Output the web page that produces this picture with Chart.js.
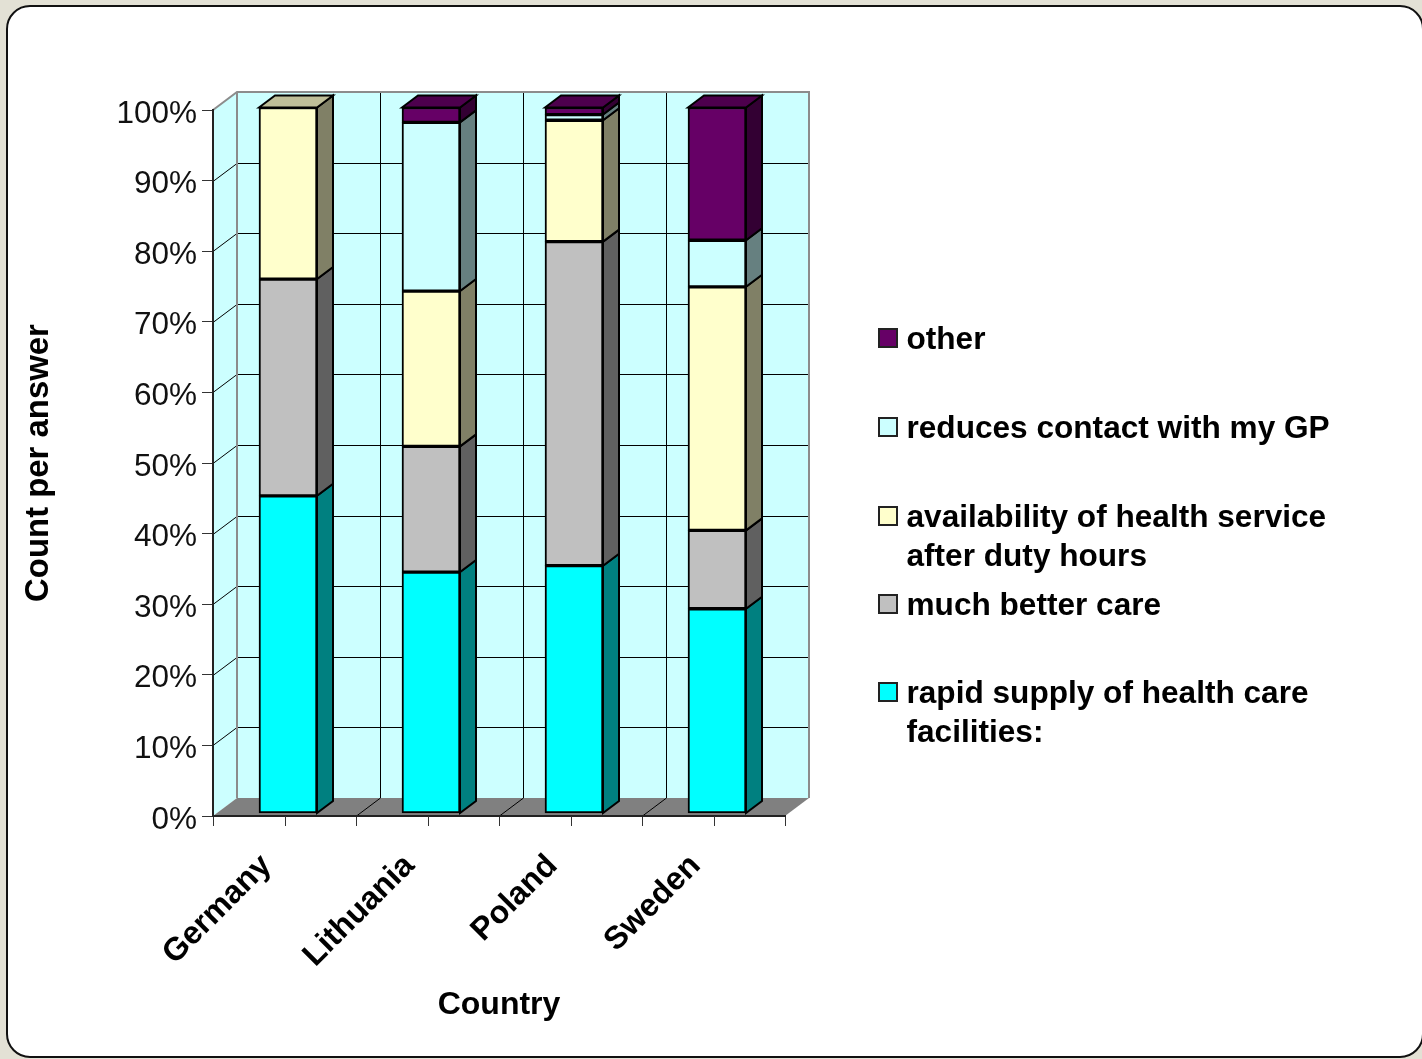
<!DOCTYPE html>
<html>
  <head>
    <title>Count per answer by country</title>
    <script src="https://cdn.jsdelivr.net/npm/chart.js@4/dist/chart.umd.js"></script>
    <style>
      html, body { margin: 0; height: 100%; overflow: hidden; background: #e3e1d5; }
      #frame {
        position: absolute; left: 6px; top: 5px; width: 1414px; height: 1049px;
        border: 2px solid #111; border-radius: 24px; background: #fff;
      }
      #canvas { position: absolute; left: 0; top: 0; }
    </style>
  </head>

  <body>
    <div id="frame"></div>
    <canvas id="canvas" width="1422" height="1059"></canvas>
    <script>
      const countries = ['Germany', 'Lithuania', 'Poland', 'Sweden'];
      const rapidSupply = [45.0, 34.2, 35.1, 29.0];
      const betterCare = [30.7, 17.8, 45.9, 11.1];
      const afterHours = [24.3, 22.0, 17.2, 34.5];
      const reducesContact = [null, 23.9, 0.8, 6.6];
      const other = [null, 2.1, 1.0, 18.8];

      const FONT = 'Arial, "Liberation Sans", sans-serif';
      const WALL_DEPTH = { x: 24, y: 18 };
      const BAR_DEPTH = { x: 16, y: 12 };
      const BAR_SHIFT = { x: 3.5, y: -2.5 };

      // darken a [r,g,b] colour for the side and top faces
      const shade = (rgb, k) => 'rgb(' + rgb.map((c) => Math.round(c * k)).join(',') + ')';
      const css = (rgb) => shade(rgb, 1);

      const series = [
        { label: 'rapid supply of health care\nfacilities:', rgb: [0, 255, 255], data: rapidSupply, legendY: 692 },
        { label: 'much better care', rgb: [192, 192, 192], data: betterCare, legendY: 604 },
        { label: 'availability of health service\nafter duty hours', rgb: [255, 255, 204], data: afterHours, legendY: 516 },
        { label: 'reduces contact with my GP', rgb: [204, 255, 255], data: reducesContact, legendY: 427 },
        { label: 'other', rgb: [102, 0, 102], data: other, legendY: 338 },
      ];

      function line(ctx, x1, y1, x2, y2) {
        ctx.beginPath();
        ctx.moveTo(x1, y1);
        ctx.lineTo(x2, y2);
        ctx.stroke();
      }

      function poly(ctx, pts, fill, stroke, width) {
        ctx.beginPath();
        pts.forEach((p, i) => (i ? ctx.lineTo(p[0], p[1]) : ctx.moveTo(p[0], p[1])));
        ctx.closePath();
        ctx.fillStyle = fill;
        ctx.fill();
        if (stroke) {
          ctx.strokeStyle = stroke;
          ctx.lineWidth = width;
          ctx.stroke();
        }
      }

      // chart.js has no offset option for tick labels, so wrap the scale's own draw
      function nudgeLabels(scale, dx, dy) {
        const draw = scale.drawLabels;
        scale.drawLabels = function (area) {
          this.ctx.save();
          this.ctx.translate(dx, dy);
          draw.call(this, area);
          this.ctx.restore();
        };
      }

      const nudgePlugin = {
        id: 'nudge',
        afterInit(chart) {
          chart.$nudged = false;
        },
        afterLayout(chart) {
          if (chart.$nudged) return;
          chart.$nudged = true;
          nudgeLabels(chart.scales.x, -18, 9);
          nudgeLabels(chart.scales.y, 0, 4);
        },
      };

      // walls, floor and gridlines behind the bars
      const wallsPlugin = {
        id: 'walls',
        beforeDraw(chart) {
          const { ctx, chartArea: a, scales } = chart;
          const dx = WALL_DEPTH.x;
          const dy = WALL_DEPTH.y;
          ctx.save();
          poly(ctx, [[a.left, a.bottom], [a.left + dx, a.bottom - dy], [a.left + dx, a.top - dy], [a.left, a.top]], '#ccffff');
          poly(ctx, [[a.left + dx, a.top - dy], [a.right + dx, a.top - dy], [a.right + dx, a.bottom - dy], [a.left + dx, a.bottom - dy]], '#ccffff');
          poly(ctx, [[a.left, a.bottom], [a.left + dx, a.bottom - dy], [a.right + dx, a.bottom - dy], [a.right, a.bottom]], '#808080');

          ctx.strokeStyle = '#000';
          ctx.lineWidth = 1;
          scales.y.ticks.forEach((t) => {
            if (t.value === 0 || t.value === 100) return;
            const y = Math.round(scales.y.getPixelForValue(t.value)) + 0.5;
            line(ctx, a.left, y, a.left + dx, y - dy);
            line(ctx, a.left + dx, y - dy, a.right + dx, y - dy);
          });
          const step = (a.right - a.left) / countries.length;
          for (let i = 1; i < countries.length; i++) {
            const x = Math.round(a.left + step * i) + 0.5;
            line(ctx, x + dx, a.top - dy, x + dx, a.bottom - dy);
            line(ctx, x, a.bottom, x + dx, a.bottom - dy);
          }

          ctx.strokeStyle = '#8c8c8c';
          ctx.lineWidth = 2;
          ctx.beginPath();
          ctx.moveTo(a.left, a.top);
          ctx.lineTo(a.left + dx, a.top - dy);
          ctx.lineTo(a.right + dx, a.top - dy);
          ctx.lineTo(a.right + dx, a.bottom - dy);
          ctx.moveTo(a.left + dx, a.top - dy);
          ctx.lineTo(a.left + dx, a.bottom - dy);
          ctx.stroke();
          ctx.restore();
        },
        // tick marks under the category centres, next to the native boundary ticks
        afterDraw(chart) {
          const { ctx, chartArea: a, scales } = chart;
          ctx.save();
          ctx.strokeStyle = '#333';
          ctx.lineWidth = 1;
          countries.forEach((c, i) => {
            const x = Math.round(scales.x.getPixelForValue(i)) + 0.5;
            line(ctx, x, a.bottom, x, a.bottom + 10);
          });
          ctx.restore();
        },
      };

      // shifts the bars off the front edge and gives them a side and a top
      const boxesPlugin = {
        id: 'boxes',
        beforeDatasetsDraw(chart) {
          chart.ctx.save();
          chart.ctx.translate(BAR_SHIFT.x, BAR_SHIFT.y);
        },
        afterDatasetsDraw(chart) {
          const ctx = chart.ctx;
          const dx = BAR_DEPTH.x;
          const dy = BAR_DEPTH.y;
          countries.forEach((c, j) => {
            let top = null;
            series.forEach((s, i) => {
              const el = chart.getDatasetMeta(i).data[j];
              if (s.data[j] === null) return;
              const r = el.x + el.width / 2;
              poly(ctx, [[r, el.y], [r + dx, el.y - dy], [r + dx, el.base - dy], [r, el.base]], shade(s.rgb, 0.5), '#000', 2);
              top = { el, s };
            });
            const l = top.el.x - top.el.width / 2;
            const r = top.el.x + top.el.width / 2;
            const y = top.el.y;
            poly(ctx, [[l, y], [l + dx, y - dy], [r + dx, y - dy], [r, y]], shade(top.s.rgb, 0.75), '#000', 2);
          });
          ctx.restore();
        },
      };

      const legendPlugin = {
        id: 'sideLegend',
        afterDraw(chart) {
          const ctx = chart.ctx;
          ctx.save();
          ctx.font = 'bold 31.6px ' + FONT;
          ctx.textBaseline = 'middle';
          series.forEach((s) => {
            ctx.fillStyle = css(s.rgb);
            ctx.strokeStyle = '#222';
            ctx.lineWidth = 2;
            ctx.fillRect(879, s.legendY - 9, 18, 18);
            ctx.strokeRect(879, s.legendY - 9, 18, 18);
            ctx.fillStyle = '#000';
            s.label.split('\n').forEach((text, i) => {
              ctx.fillText(text, 906.5, s.legendY + 2 + i * 39);
            });
          });
          ctx.restore();
        },
      };

      window.onload = () => {
        const ctx = document.getElementById('canvas').getContext('2d');
        new Chart(ctx, {
          type: 'bar',
          data: {
            labels: countries,
            datasets: series.map((s) => ({
              label: s.label.replace('\n', ' '),
              data: s.data,
              backgroundColor: css(s.rgb),
              borderColor: '#000',
              borderWidth: 2,
              borderSkipped: false,
              barThickness: 58,
              clip: false,
            })),
          },
          options: {
            responsive: false,
            animation: false,
            events: [],
            layout: { padding: { top: 110, right: 637, left: 0, bottom: 0 } },
            plugins: { legend: { display: false }, tooltip: { enabled: false } },
            scales: {
              x: {
                stacked: true,
                afterFit: (scale) => { scale.height = 243; },
                grid: { drawOnChartArea: false, color: '#333', tickLength: 10 },
                border: { color: '#222', width: 2 },
                ticks: {
                  color: '#000',
                  minRotation: 45,
                  maxRotation: 45,
                  padding: 12,
                  font: { family: FONT, size: 32, weight: 'bold' },
                },
                title: {
                  display: true,
                  text: 'Country',
                  color: '#000',
                  font: { family: FONT, size: 32, weight: 'bold' },
                  padding: { top: 0, bottom: 35 },
                },
              },
              y: {
                stacked: true,
                min: 0,
                max: 100,
                afterFit: (scale) => { scale.width = 213; },
                grid: { drawOnChartArea: false, color: '#333', tickLength: 11 },
                border: { color: '#222', width: 2 },
                ticks: {
                  color: '#111',
                  stepSize: 10,
                  padding: 5,
                  callback: (v) => v + '%',
                  font: { family: FONT, size: 31.5 },
                },
                title: {
                  display: true,
                  text: 'Count per answer',
                  color: '#000',
                  font: { family: FONT, size: 32.9, weight: 'bold' },
                  padding: { top: 19, bottom: 0 },
                },
              },
            },
          },
          plugins: [nudgePlugin, wallsPlugin, boxesPlugin, legendPlugin],
        });
      };
    </script>
  </body>
</html>
